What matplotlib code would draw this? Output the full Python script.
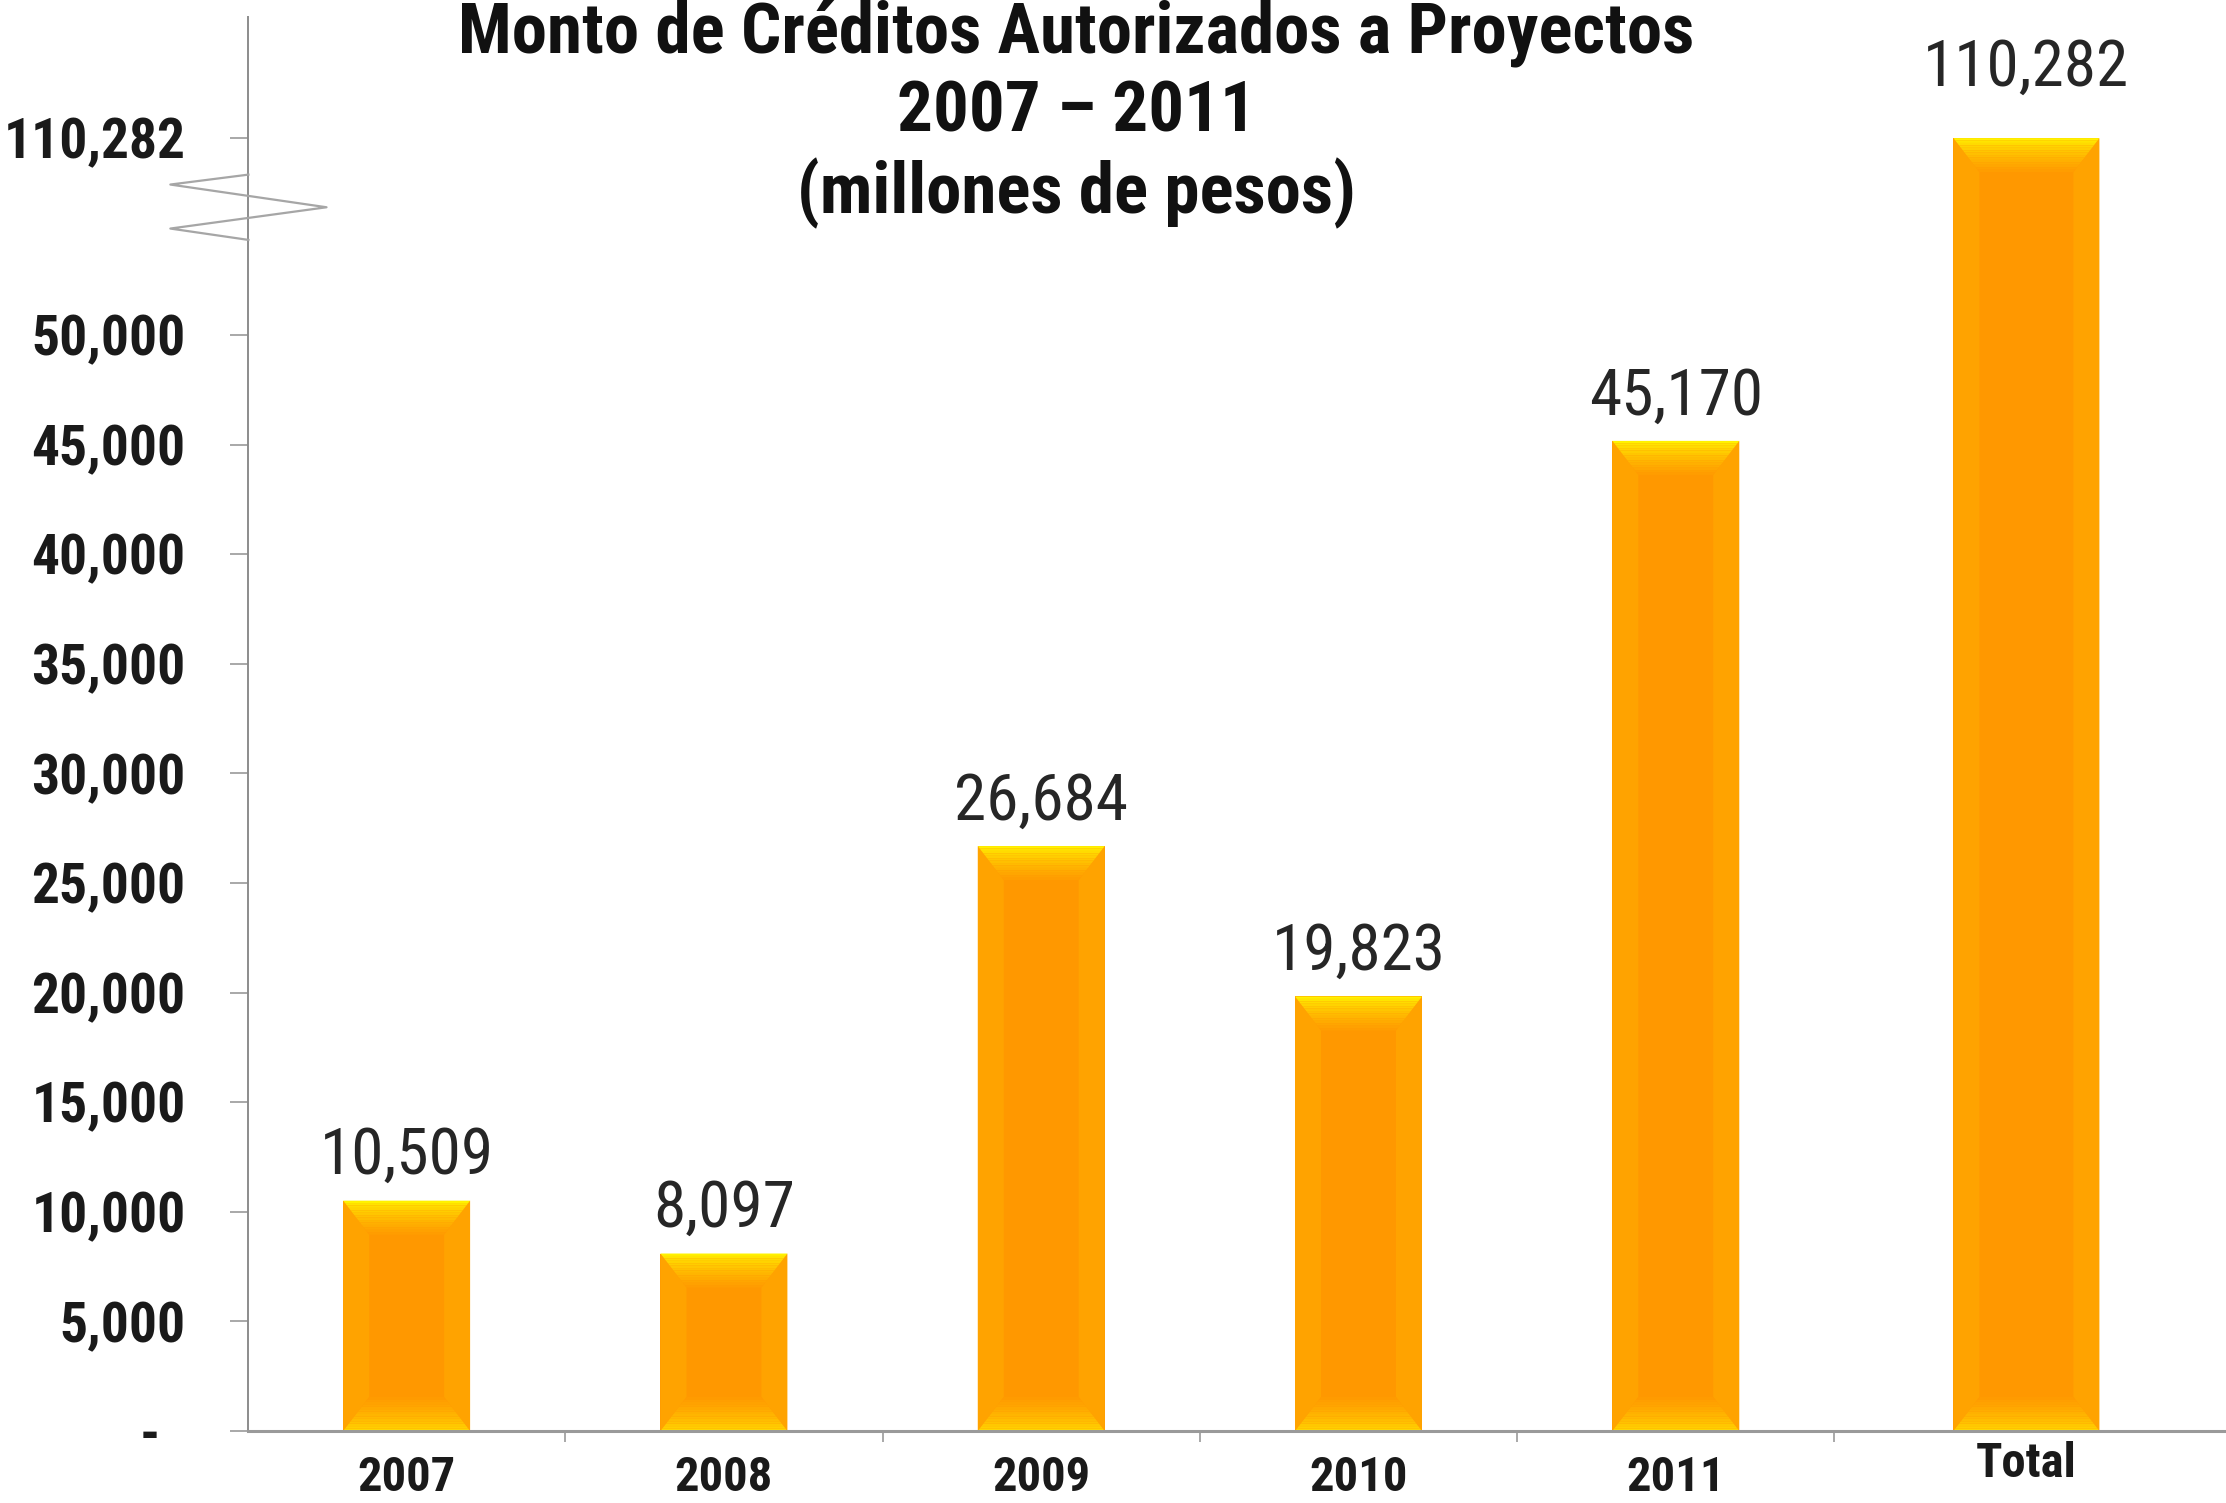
"""
Monto de Créditos Autorizados a Proyectos 2007-2011 — bar chart with a broken
y axis (the Total bar is squeezed above 50,000) and bevelled orange bars.
"""

import numpy as np
import matplotlib
matplotlib.use("Agg")
import matplotlib.pyplot as plt
from matplotlib.patches import Polygon
from matplotlib.lines import Line2D
from matplotlib.colors import to_rgb
from matplotlib.transforms import ScaledTranslation

# ---- data ----
categories = ["2007", "2008", "2009", "2010", "2011", "Total"]
values = [10509, 8097, 26684, 19823, 45170, 110282]
value_labels = ["10,509", "8,097", "26,684", "19,823", "45,170", "110,282"]
ytick_values = [0, 5000, 10000, 15000, 20000, 25000, 30000, 35000, 40000,
                45000, 50000, 110282]
ytick_labels = ["-  ", "5,000", "10,000", "15,000", "20,000", "25,000",
                "30,000", "35,000", "40,000", "45,000", "50,000", "110,282"]
title_lines = ["Monto de Créditos Autorizados a Proyectos",
               "2007 \u2013 2011",
               "(millones de pesos)"]

plt.rcParams["font.family"] = ["Roboto Condensed", "DejaVu Sans"]

# ---- broken y scale: linear up to 50,000, compressed above ----
BREAK = 50000
K = 0.149


def fwd(y):
    y = np.asarray(y, dtype=float)
    return np.where(y <= BREAK, y, BREAK + (y - BREAK) * K)


def inv(y):
    y = np.asarray(y, dtype=float)
    return np.where(y <= BREAK, y, BREAK + (y - BREAK) / K)


DPI = 100
fig = plt.figure(figsize=(22.26, 15.03), dpi=DPI, facecolor="white")
ax = fig.add_axes([248 / 2226, 1 - 1431 / 1503, 1 - 248 / 2226,
                   (1431 - 17) / 1503])
ax.set_yscale("function", functions=(fwd, inv))

n = len(categories)
xpos = np.arange(n, dtype=float)
xpos[-1] = n - 1 + 0.105           # Total sits a bit further right
widths = np.full(n, 0.40)
widths[-1] = 0.46

ax.set_xlim(-0.5, 5.734)
ax.set_ylim(0, float(inv(64507)))

# ---- bevelled bars ----
ORANGE = to_rgb("#FF9800")
SIDE = to_rgb("#FFA300")
YELLOW = to_rgb("#FFF200")
BOT_YELLOW = to_rgb("#FFD800")
BEV_D, BEV_H = 34, 26   # bevel depth / width in pixels


def mix(c1, c2, t):
    return tuple(a + (b - a) * t for a, b in zip(c1, c2))


to_px = ax.transData
to_data = ax.transData.inverted()

for x, w, v in zip(xpos, widths, values):
    ax.bar(x, v, width=w, color=ORANGE, edgecolor="none", zorder=2)
    (x0, y0), (x1, y1) = to_px.transform([(x - w / 2, 0), (x + w / 2, v)])

    def poly(pts, col):
        ax.add_patch(Polygon(to_data.transform(pts), closed=True,
                             facecolor=col, edgecolor="none", zorder=3))

    # side bevels
    poly([(x0, y0), (x0 + BEV_H, y0 + BEV_D), (x0 + BEV_H, y1 - BEV_D),
          (x0, y1)], SIDE)
    poly([(x1, y0), (x1 - BEV_H, y0 + BEV_D), (x1 - BEV_H, y1 - BEV_D),
          (x1, y1)], SIDE)
    # top and bottom bevels as gradient strips
    steps = 14
    for i in range(steps):
        s0, s1 = i / steps, (i + 1) / steps
        t = s0 ** 0.7
        col_top = mix(YELLOW, ORANGE, t)
        col_bot = mix(BOT_YELLOW, ORANGE, t)
        poly([(x0 + BEV_H * s0, y1 - BEV_D * s0), (x1 - BEV_H * s0, y1 - BEV_D * s0),
              (x1 - BEV_H * s1, y1 - BEV_D * s1), (x0 + BEV_H * s1, y1 - BEV_D * s1)],
             col_top)
        poly([(x0 + BEV_H * s0, y0 + BEV_D * s0), (x1 - BEV_H * s0, y0 + BEV_D * s0),
              (x1 - BEV_H * s1, y0 + BEV_D * s1), (x0 + BEV_H * s1, y0 + BEV_D * s1)],
             col_bot)

# ---- value labels ----
for i, (x, v, lab) in enumerate(zip(xpos, values, value_labels)):
    off = 19 if i < n - 1 else 38
    ax.annotate(lab, (x, v), xytext=(0, off), textcoords="offset points",
                ha="center", va="baseline", fontsize=47, color="#262626",
                zorder=5)

# ---- axes styling ----
for s in ("top", "right"):
    ax.spines[s].set_visible(False)
ax.spines["left"].set_color("#8c8c8c")
ax.spines["left"].set_linewidth(1.4)
ax.spines["bottom"].set_color("#9a9a9a")
ax.spines["bottom"].set_linewidth(2.2)
ax.spines["bottom"].set_zorder(4)

ax.set_yticks(ytick_values)
ax.set_yticklabels(ytick_labels, fontsize=40, fontweight="bold",
                   color="#1a1a1a")
ax.tick_params(axis="y", direction="out", length=13, width=1.2,
               color="#9a9a9a", pad=32)

ax.set_xticks(xpos)
ax.set_xticklabels(categories, fontsize=35, fontweight="bold",
                   color="#1a1a1a")
ax.set_xticks([0.5, 1.5, 2.5, 3.5, 4.5], minor=True)
ax.tick_params(axis="x", which="major", length=0, pad=17)
ax.tick_params(axis="x", which="minor", direction="out", length=8,
               width=1.2, color="#9a9a9a")
ax.tick_params(axis="y", which="minor", length=0)
lbl = ax.get_xticklabels()[-1]
lbl.set_transform(lbl.get_transform()
                  + ScaledTranslation(0, 14 / DPI, fig.dpi_scale_trans))

# ---- axis break marker ----
brk_x = [175, 120, 230, 120, 175]
brk_y = [123, 130, 146, 161, 169]
fig.add_artist(Line2D([px * 1.4196 / 2226 for px in brk_x],
                      [1 - py * 1.4196 / 1503 for py in brk_y],
                      color="#a6a6a6", lw=1.6))

# ---- title ----
fig.text(1076 / 2226, 1 - 114 / 1503, "\n".join(title_lines),
         ha="center", va="center", fontsize=51, fontweight="bold",
         color="#111111", linespacing=1.22)

plt.savefig("out.png", dpi=DPI, facecolor="white")
plt.close(fig)
